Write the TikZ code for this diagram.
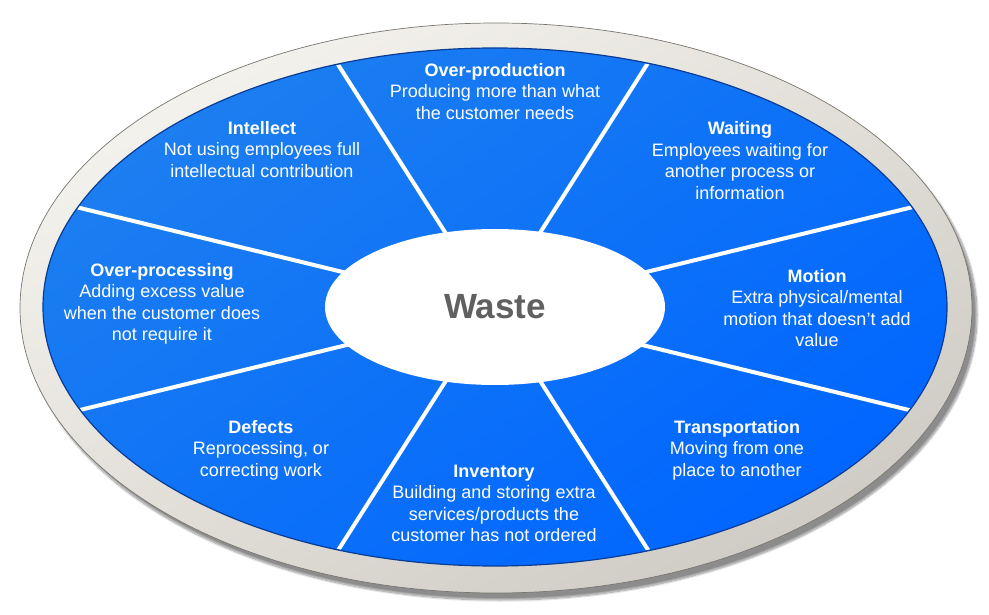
\documentclass[tikz,border=0pt]{standalone}
\usepackage{fontspec}
\setmainfont{Liberation Sans}
\usetikzlibrary{calc,shapes.geometric,shadows.blur}
\definecolor{ringlight}{RGB}{244,242,236}
\definecolor{ringdark}{RGB}{206,204,196}
\definecolor{ringedge}{RGB}{120,118,112}
\definecolor{bluelight}{RGB}{28,126,240}
\definecolor{bluemid}{RGB}{6,108,250}
\definecolor{bluemain}{RGB}{0,102,255}
\definecolor{blueedge}{RGB}{10,60,150}
\definecolor{wastegray}{RGB}{96,96,96}
\tikzset{
  lbl/.style={align=center, text=white, inner sep=0pt, font=\fontsize{18}{21.5}\selectfont},
  divider/.style={draw=white, line width=4pt},
}
\begin{document}
\begin{tikzpicture}[x=1pt,y=1pt]
\useasboundingbox (0,0) rectangle (989,614);
% outer ring with shadow
\path[blur shadow={shadow xshift=5pt, shadow yshift=-7pt, shadow blur steps=12, shadow opacity=45},
      left color=ringlight, right color=ringdark, shading angle=30]
  (496,306) ellipse [x radius=476pt, y radius=285pt];
\draw[ringedge, line width=0.7pt] (496,306) ellipse [x radius=476pt, y radius=285pt];
% blue field
\path[left color=bluelight, middle color=bluemid, right color=bluemain, shading angle=35]
  (495,307) ellipse [x radius=452pt, y radius=259pt];
\draw[blueedge, line width=1.2pt] (495,307) ellipse [x radius=452pt, y radius=259pt];
% dividers
\coordinate (c) at (495,307);
\coordinate (a1) at (337,551);
\coordinate (a2) at (650,61);
\coordinate (b1) at (648,551);
\coordinate (b2) at (337,62);
\coordinate (d1) at (80,406);
\coordinate (d2) at (913,203);
\coordinate (e1) at (80,204);
\coordinate (e2) at (913,407);
\begin{scope}
\clip (495,307) ellipse [x radius=451pt, y radius=258pt];
\draw[divider] ($(a1)!-0.05!(a2)$) -- ($(a1)!1.05!(a2)$);
\draw[divider] ($(b1)!-0.05!(b2)$) -- ($(b1)!1.05!(b2)$);
\draw[divider] ($(d1)!-0.05!(d2)$) -- ($(d1)!1.05!(d2)$);
\draw[divider] ($(e1)!-0.05!(e2)$) -- ($(e1)!1.05!(e2)$);
\end{scope}
% center
\node[ellipse, fill=white, minimum width=340pt, minimum height=156pt, inner sep=0pt,
      text=wastegray, font=\fontsize{35}{40}\selectfont\bfseries] (waste) at (495,307) {Waste};
% labels
\node[lbl] (overprod) at (495,522.5) {{\bfseries Over-production}\\Producing more than what\\the customer needs};
\node[lbl] (intellect) at (262,464.5) {{\bfseries Intellect}\\Not using employees full\\intellectual contribution};
\node[lbl] (waiting) at (740,453.5) {{\bfseries Waiting}\\Employees waiting for\\another process or\\information};
\node[lbl] (overproc) at (162,310) {{\bfseries Over-processing}\\Adding excess value\\when the customer does\\not require it};
\node[lbl] (motion) at (817,306) {{\bfseries Motion}\\Extra physical/mental\\motion that doesn't add\\value};
\node[lbl] (defects) at (261,164) {{\bfseries Defects}\\Reprocessing, or\\correcting work};
\node[lbl] (inventory) at (494,110.5) {{\bfseries Inventory}\\Building and storing extra\\services/products the\\customer has not ordered};
\node[lbl] (transport) at (737,164) {{\bfseries Transportation}\\Moving from one\\place to another};
\end{tikzpicture}
\end{document}
